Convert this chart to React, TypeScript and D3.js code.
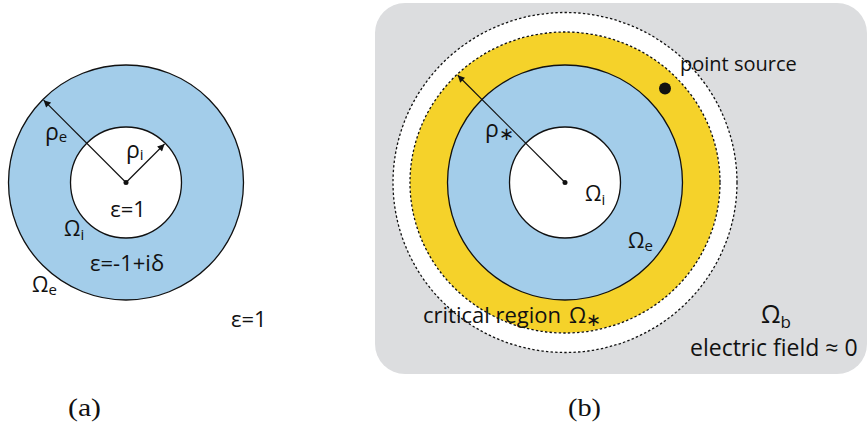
import * as d3 from "d3";

// radii in units of rho_i
const radiiA = [2.117, 1];
const radiiB = [2.117, 1];
const criticalRadius = [2.793, 2.712]; // rx, ry
const outerDotted = [3.099, 3.063];
const permittivity = ["ε=1", "ε=-1+iδ", "ε=1"];
const captions = ["(a)", "(b)"];

const BLUE = "#a3cdea";
const YELLOW = "#f5d22a";
const GRAY = "#dcdddf";
const INK = "#111";
const FONT = "'Open Sans', sans-serif";

const r = d3.scaleLinear().domain([0, 1]).range([0, 55.5]);

function Sub({ x, y, main, sub, size = 22, subSize = 14, dy = 4 }: any) {
  return (
    <text x={x} y={y} fontSize={size} fill={INK} fontFamily={FONT}>
      {main}
      <tspan fontSize={subSize} dy={dy}>{sub}</tspan>
    </text>
  );
}

export default function App() {
  const ca = [126, 182.5];
  const cb = [565, 182.5];
  const deg = (a: number) => (a * Math.PI) / 180;
  const tip = (c: number[], rad: number, ang: number) => [
    c[0] + rad * Math.cos(deg(ang)),
    c[1] - rad * Math.sin(deg(ang)),
  ];
  // ellipse radius at 135 deg
  const rxs = r(criticalRadius[0]);
  const rys = r(criticalRadius[1]);
  const t = deg(135);
  const rStar = 1 / Math.sqrt((Math.cos(t) ** 2) / rxs ** 2 + (Math.sin(t) ** 2) / rys ** 2);

  const aE = tip(ca, r(radiiA[0]) - 1, 135);
  const aI = tip(ca, r(radiiA[1]) - 1, 45);
  const aS = tip(cb, rStar - 1, 135);

  return (
    <svg
      width={867}
      height={423}
      style={{ position: "absolute", left: 0, top: 0, background: "#fff" }}
    >
      <defs>
        <marker
          id="ah"
          viewBox="0 0 10 10"
          refX={10}
          refY={5}
          markerWidth={8}
          markerHeight={7}
          markerUnits="userSpaceOnUse"
          orient="auto"
        >
          <path d="M0,0 L10,5 L0,10 z" fill={INK} />
        </marker>
      </defs>

      {/* panel a */}
      <circle cx={ca[0]} cy={ca[1]} r={r(radiiA[0])} fill={BLUE} stroke={INK} strokeWidth={1.3} />
      <circle cx={ca[0]} cy={ca[1]} r={r(radiiA[1])} fill="#fff" stroke={INK} strokeWidth={1.3} />
      <line x1={ca[0]} y1={ca[1]} x2={aE[0]} y2={aE[1]} stroke={INK} strokeWidth={1.2} markerEnd="url(#ah)" />
      <line x1={ca[0]} y1={ca[1]} x2={aI[0]} y2={aI[1]} stroke={INK} strokeWidth={1.2} markerEnd="url(#ah)" />
      <circle cx={ca[0]} cy={ca[1]} r={2.5} fill={INK} />
      <Sub x={45} y={140} main="ρ" sub="e" size={23} subSize={15} dy={2} />
      <Sub x={126} y={158} main="ρ" sub="i" size={23} subSize={15} dy={2} />
      <text x={ca[0] + 2} y={217} textAnchor="middle" fontSize={22} fill={INK} fontFamily={FONT}>{permittivity[0]}</text>
      <Sub x={64} y={236} main="Ω" sub="i" size={21} subSize={15} dy={4} />
      <text x={90} y={271} fontSize={22} fill={INK} fontFamily={FONT}>{permittivity[1]}</text>
      <Sub x={32} y={292} main="Ω" sub="e" size={21} subSize={15} dy={3} />
      <text x={231} y={327} fontSize={22} fill={INK} fontFamily={FONT}>{permittivity[2]}</text>

      {/* panel b */}
      <rect x={375} y={3} width={492} height={371} rx={30} fill={GRAY} />
      <ellipse cx={cb[0]} cy={cb[1]} rx={r(outerDotted[0])} ry={r(outerDotted[1])} fill="#fff" stroke={INK} strokeWidth={1.3} strokeDasharray="2.4,2.2" />
      <ellipse cx={cb[0]} cy={cb[1]} rx={rxs} ry={rys} fill={YELLOW} stroke={INK} strokeWidth={1.3} strokeDasharray="2.4,2.2" />
      <circle cx={cb[0]} cy={cb[1]} r={r(radiiB[0])} fill={BLUE} stroke={INK} strokeWidth={1.3} />
      <circle cx={cb[0]} cy={cb[1]} r={r(radiiB[1])} fill="#fff" stroke={INK} strokeWidth={1.3} />
      <line x1={cb[0]} y1={cb[1]} x2={aS[0]} y2={aS[1]} stroke={INK} strokeWidth={1.2} markerEnd="url(#ah)" />
      <circle cx={cb[0]} cy={cb[1]} r={2.5} fill={INK} />
      <circle cx={665} cy={88.5} r={6} fill={INK} />
      <text x={680} y={71} fontSize={20} fill={INK} fontFamily={FONT}>point source</text>
      <Sub x={485} y={137} main="ρ" sub="∗" size={23} subSize={18} dy={3} />
      <Sub x={585} y={201} main="Ω" sub="i" size={21} subSize={15} dy={4} />
      <Sub x={628} y={248} main="Ω" sub="e" size={21} subSize={15} dy={3} />
      <text x={423} y={323} fontSize={22} fill={INK} fontFamily={FONT}>
        critical region
        <tspan dx={8}>Ω</tspan>
        <tspan fontSize={18} dy={3}>∗</tspan>
      </text>
      <Sub x={761} y={323} main="Ω" sub="b" size={25} subSize={17} dy={5} />
      <text x={690} y={356} fontSize={23} fill={INK} fontFamily={FONT}>electric field ≈ 0</text>

      {/* captions */}
      <text x={68} y={416} fontSize={26} textLength={33} lengthAdjust="spacingAndGlyphs" fill={INK} fontFamily="'Liberation Serif', serif">{captions[0]}</text>
      <text x={568} y={416} fontSize={26} textLength={33} lengthAdjust="spacingAndGlyphs" fill={INK} fontFamily="'Liberation Serif', serif">{captions[1]}</text>
    </svg>
  );
}
